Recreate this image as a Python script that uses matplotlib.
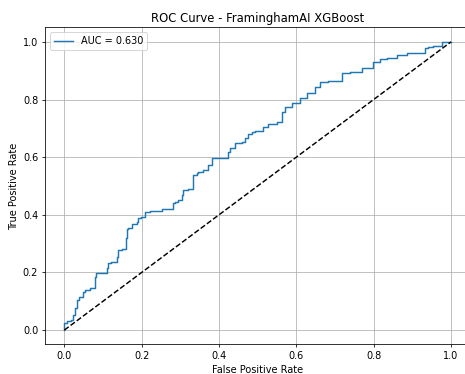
import numpy as np
import matplotlib
matplotlib.use("Agg")
import matplotlib.pyplot as plt

# ROC points
fpr = [0.0, 0.007, 0.016, 0.023, 0.028, 0.034, 0.039, 0.047, 0.054, 0.067,
       0.078, 0.083, 0.088, 0.111, 0.114, 0.121, 0.137, 0.140, 0.150, 0.160,
       0.163, 0.165, 0.176, 0.189, 0.191, 0.199, 0.209, 0.222, 0.253, 0.282,
       0.287, 0.295, 0.305, 0.307, 0.320, 0.333, 0.344, 0.346, 0.359, 0.372,
       0.382, 0.395, 0.424, 0.429, 0.442, 0.460, 0.468, 0.475, 0.486, 0.494,
       0.514, 0.527, 0.550, 0.563, 0.571, 0.589, 0.610, 0.628, 0.649, 0.662,
       0.682, 0.718, 0.739, 0.770, 0.798, 0.817, 0.835, 0.860, 0.886, 0.902,
       0.933, 0.941, 0.953, 0.977, 0.984, 1.0]
tpr = [0.0, 0.024, 0.031, 0.035, 0.052, 0.076, 0.104, 0.115, 0.132, 0.139,
       0.146, 0.184, 0.198, 0.198, 0.215, 0.233, 0.236, 0.253, 0.278, 0.281,
       0.319, 0.351, 0.354, 0.368, 0.375, 0.389, 0.392, 0.410, 0.413, 0.420,
       0.441, 0.444, 0.451, 0.469, 0.486, 0.490, 0.538, 0.545, 0.549, 0.556,
       0.573, 0.597, 0.597, 0.618, 0.632, 0.649, 0.653, 0.667, 0.681, 0.688,
       0.691, 0.705, 0.715, 0.722, 0.757, 0.774, 0.788, 0.806, 0.823, 0.844,
       0.861, 0.865, 0.892, 0.896, 0.910, 0.931, 0.941, 0.944, 0.955, 0.962,
       0.962, 0.979, 0.983, 0.986, 1.0, 1.0]
auc_label = "AUC = 0.630"
title = "ROC Curve - FraminghamAI XGBoost"

dpi = 70
fig = plt.figure(figsize=(465 / dpi, 374 / dpi), dpi=dpi)
ax = fig.add_axes([0.0968, 0.0789, 0.9146, 0.8476])
ax.plot(fpr, tpr, drawstyle="steps-pre", label=auc_label)
ax.plot([0, 1], [0, 1], 'k--')
ax.set_xlabel("False Positive Rate")
ax.set_ylabel("True Positive Rate")
ax.set_title(title)
ax.legend(loc="upper left")
ax.grid(True)
fig.savefig("out.png", dpi=dpi)
